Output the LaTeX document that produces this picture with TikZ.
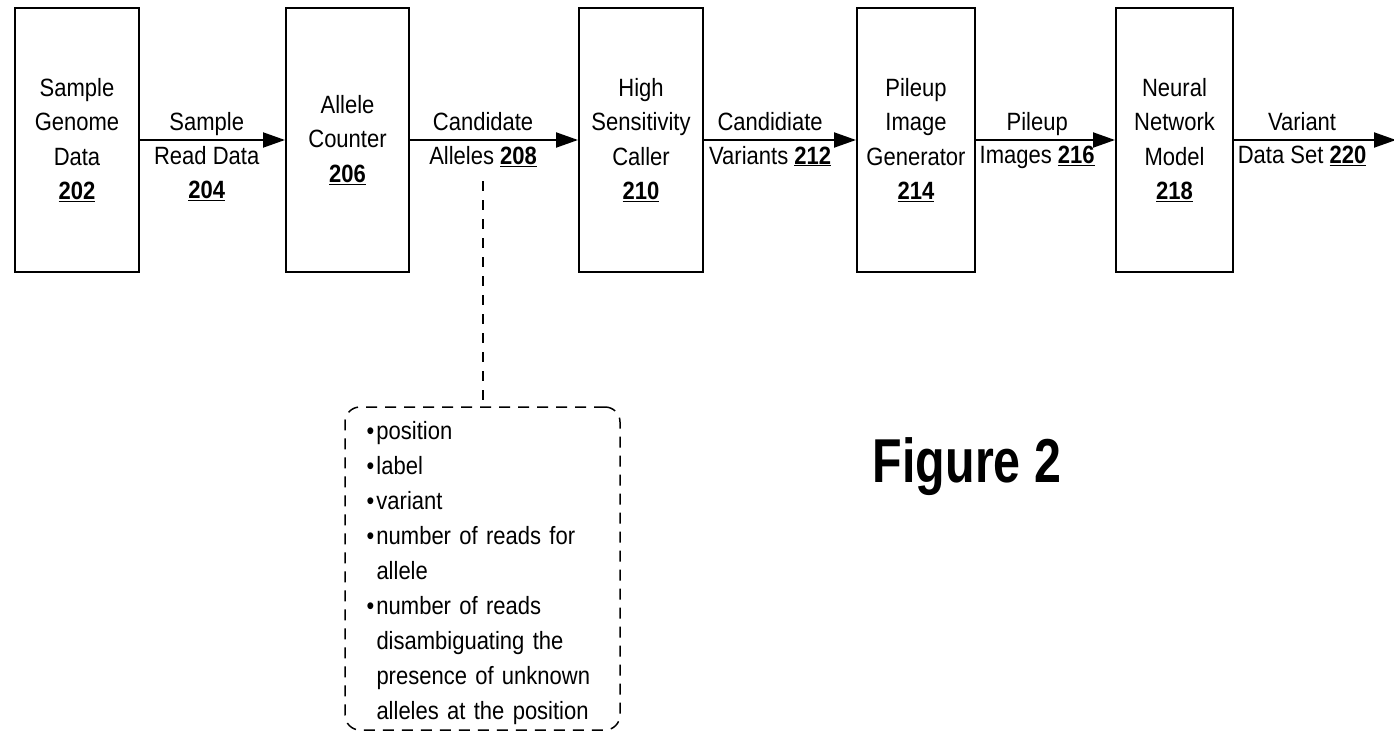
\documentclass[tikz,border=0pt]{standalone}
\usepackage{fontspec}
\setmainfont[FakeStretch=0.88]{Liberation Sans}
\newfontfamily\figfont[FakeStretch=0.78]{Liberation Sans}
\usetikzlibrary{arrows.meta}
\newcommand\refnum[1]{\underline{\textbf{#1}}}
\begin{document}
\begin{tikzpicture}[x=1pt,y=-1pt,
  every node/.style={font=\fontsize{25}{34.5}\selectfont},
  proc/.style={draw, line width=2pt, minimum height=264pt, align=center, inner sep=0pt},
  arr/.style={line width=2pt, -{Triangle[length=22pt,width=15pt]}},
  up/.style={above, inner sep=3pt, text height=18pt, text depth=5.5pt},
  dn/.style={below, inner sep=5pt, align=center},
  notebox/.style={draw, dash pattern=on 11pt off 8pt, line width=1.5pt, rounded corners=15pt,
    minimum width=275pt, minimum height=323pt, text width=232pt, align=left, inner sep=0pt,
    font=\fontsize{25}{35}\selectfont},
  link/.style={dash pattern=on 10pt off 9pt, line width=1.5pt}
]
\useasboundingbox (0,0) rectangle (1394,741);

\node[proc, minimum width=124pt] (b1) at (77,140) {Sample\\Genome\\Data\\\refnum{202}};
\node[proc, minimum width=123pt] (b2) at (347.5,140) {Allele\\Counter\\\refnum{206}};
\node[proc, minimum width=124pt] (b3) at (641,140) {High\\Sensitivity\\Caller\\\refnum{210}};
\node[proc, minimum width=118pt] (b4) at (916,140) {Pileup\\Image\\Generator\\\refnum{214}};
\node[proc, minimum width=117pt] (b5) at (1174.5,140) {Neural\\Network\\Model\\\refnum{218}};
\coordinate (end) at (1396,140);

\draw[arr] (b1) -- (b2) node[up,pos=.46]{Sample} node[dn,pos=.46]{Read Data\\\refnum{204}};
\draw[arr] (b2) -- (b3) node[up,pos=.435]{Candidate} node[dn,pos=.435] (l208) {Alleles \refnum{208}};
\draw[arr] (b3) -- (b4) node[up,pos=.435]{Candidiate} node[dn,pos=.435]{Variants \refnum{212}};
\draw[arr] (b4) -- (b5) node[up,pos=.44]{Pileup} node[dn,pos=.44]{Images \refnum{216}};
\draw[arr] (b5) -- (end) node[up,pos=.42]{Variant} node[dn,pos=.42]{Data Set \refnum{220}};

\node[notebox] (notes) at (482.5,568.5) {\raggedright
\hangindent=10pt\hangafter=1\rule{0pt}{28pt}\makebox[10pt][l]{•}position\par
\hangindent=10pt\hangafter=1\makebox[10pt][l]{•}label\par
\hangindent=10pt\hangafter=1\makebox[10pt][l]{•}variant\par
\hangindent=10pt\hangafter=1\makebox[10pt][l]{•}number of reads for\newline allele\par
\hangindent=10pt\hangafter=1\makebox[10pt][l]{•}number of reads\newline disambiguating the\newline presence of unknown\newline alleles at the position\par};

\draw[link, shorten <=9pt] (l208.south) -- (l208.south |- notes.north);

\node[font=\figfont\fontsize{62}{70}\selectfont\bfseries, anchor=base] (fig) at (967,482) {Figure 2};
\end{tikzpicture}
\end{document}
